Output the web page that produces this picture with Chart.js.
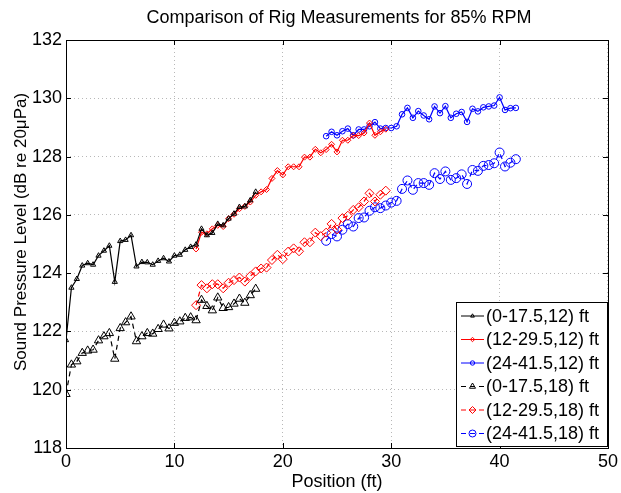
<!DOCTYPE html>
<html lang="en">
<head>
<meta charset="UTF-8">
<title>Comparison of Rig Measurements for 85% RPM</title>
<script src="https://cdn.jsdelivr.net/npm/chart.js@4.4.1/dist/chart.umd.min.js"></script>
<style>
  html, body { margin: 0; padding: 0; background: #fff; }
  #box { width: 621px; height: 493px; }
</style>
</head>
<body>
<div id="box"><canvas id="myChart" width="621" height="493"></canvas></div>
<script>
// microphone positions (ft) for each rig placement
var posA = [0,0.5,1,1.5,2,2.5,3,3.5,4,4.5,5,5.5,6,6.5,7,7.5,8,8.5,9,9.5,10,10.5,11,11.5,12,12.5,13,13.5,14,14.5,15,15.5,16,16.5,17,17.5];
var posB = [12,12.5,13,13.5,14,14.5,15,15.5,16,16.5,17,17.5,18,18.5,19,19.5,20,20.5,21,21.5,22,22.5,23,23.5,24,24.5,25,25.5,26,26.5,27,27.5,28,28.5,29,29.5];
var posC = [24,24.5,25,25.5,26,26.5,27,27.5,28,28.5,29,29.5,30,30.5,31,31.5,32,32.5,33,33.5,34,34.5,35,35.5,36,36.5,37,37.5,38,38.5,39,39.5,40,40.5,41,41.5];

// SPL (dB re 20uPa), height 12 ft
var splA12 = [121.7,123.5,123.8,124.26,124.34,124.29,124.6,124.77,124.94,123.7,125.1,125.14,125.3,124.23,124.38,124.37,124.29,124.42,124.51,124.4,124.6,124.63,124.8,124.9,124.98,125.52,125.3,125.38,125.69,125.64,125.87,126.04,126.27,126.29,126.5,126.79];
var splB12 = [124.83,125.4,125.35,125.52,125.64,125.6,125.87,126.02,126.21,126.29,126.44,126.67,126.79,126.87,127.25,127.52,127.37,127.65,127.65,127.65,127.98,127.98,128.25,128.13,128.24,128.42,128.16,128.56,128.56,128.72,128.72,128.81,129.15,128.73,128.85,128.94];
var splC12 = [128.7,128.85,128.73,128.87,128.96,128.73,128.93,128.93,129.04,129.18,128.96,128.98,128.98,129.04,129.45,129.67,129.33,129.56,129.41,129.28,129.72,129.49,129.73,129.33,129.47,129.53,129.19,129.64,129.55,129.69,129.72,129.75,130.03,129.6,129.66,129.67];

// height 18 ft
var splA18 = [119.85,120.86,120.97,121.26,121.34,121.37,121.69,121.83,121.94,121.06,122.11,122.31,122.51,121.66,121.83,121.94,121.92,122.08,122.23,122.1,122.29,122.34,122.46,122.48,122.38,123.08,122.87,122.72,123.16,122.8,122.83,122.95,123.12,122.98,123.24,123.46];
var splB18 = [122.9,123.59,123.48,123.62,123.62,123.48,123.67,123.76,123.85,123.71,123.9,124.06,124.16,124.19,124.45,124.63,124.48,124.74,124.85,124.75,125.06,125.06,125.39,125.27,125.39,125.69,125.5,125.89,125.97,126.17,126.26,126.46,126.74,126.46,126.69,126.83];
var splC18 = [125.11,125.34,125.26,125.49,125.68,125.6,125.89,125.91,126.14,126.26,126.23,126.32,126.42,126.48,126.89,127.18,126.86,127.09,127.09,127.03,127.43,127.23,127.49,127.2,127.26,127.39,127.06,127.54,127.51,127.68,127.71,127.77,128.14,127.66,127.79,127.91];

var xTicks = [0,10,20,30,40,50];
var yTicks = [118,120,122,124,126,128,130,132];

var FONT = "'Liberation Sans', Arial, sans-serif";
var TITLE = 'Comparison of Rig Measurements for 85% RPM';
var YTITLE = 'Sound Pressure Level (dB re 20\u03bcPa)';

var f_xy = function(p_x, p_y){
    var v_pts = [];
    for(var i=0; i<p_x.length; i++) v_pts.push({x: p_x[i], y: p_y[i]});
    return v_pts;
};

var f_set = function(p){
    return {
        label: p.label,
        data: f_xy(p.x, p.y),
        borderColor: p.color,
        borderWidth: 1.2,
        borderDash: p.dashed ? [5,4] : [],
        pointStyle: p.marker,
        pointRadius: p.size,
        pointBorderWidth: 1,
        pointBorderColor: p.color,
        pointBackgroundColor: 'rgba(0,0,0,0)',
        fill: false,
        tension: 0
    };
};

var datasets = [
    f_set({label:'(0-17.5,12) ft',  x:posA, y:splA12, color:'#000000', marker:'triangle', size:3,   dashed:false}),
    f_set({label:'(12-29.5,12) ft', x:posB, y:splB12, color:'#ff0000', marker:'rectRot',  size:3,   dashed:false}),
    f_set({label:'(24-41.5,12) ft', x:posC, y:splC12, color:'#0000ff', marker:'circle',   size:2.8, dashed:false}),
    f_set({label:'(0-17.5,18) ft',  x:posA, y:splA18, color:'#000000', marker:'triangle', size:4.8, dashed:true}),
    f_set({label:'(12-29.5,18) ft', x:posB, y:splB18, color:'#ff0000', marker:'rectRot',  size:4.5, dashed:true}),
    f_set({label:'(24-41.5,18) ft', x:posC, y:splC18, color:'#0000ff', marker:'circle',   size:4.5, dashed:true})
];

// box, inward ticks, titles and legend like the original figure
var boxPlugin = {
    id: 'boxPlugin',
    afterDraw: function(chart){
        var ctx = chart.ctx;
        var a = chart.chartArea;
        var xs = chart.scales.x, ys = chart.scales.y;
        ctx.save();
        ctx.strokeStyle = '#000';
        ctx.lineWidth = 1;
        ctx.setLineDash([]);
        ctx.beginPath();
        xTicks.forEach(function(v){
            var px = Math.round(xs.getPixelForValue(v)) + 0.5;
            ctx.moveTo(px, a.bottom); ctx.lineTo(px, a.bottom - 5);
            ctx.moveTo(px, a.top);    ctx.lineTo(px, a.top + 5);
        });
        yTicks.forEach(function(v){
            var py = Math.round(ys.getPixelForValue(v)) + 0.5;
            ctx.moveTo(a.left, py);  ctx.lineTo(a.left + 5, py);
            ctx.moveTo(a.right, py); ctx.lineTo(a.right - 5, py);
        });
        ctx.stroke();
        ctx.strokeRect(Math.round(a.left) + 0.5, Math.round(a.top) + 0.5,
                       Math.round(a.right - a.left), Math.round(a.bottom - a.top));

        // title centred over the axes
        ctx.fillStyle = '#000';
        ctx.font = '18px ' + FONT;
        ctx.textAlign = 'center';
        ctx.textBaseline = 'middle';
        ctx.fillText(TITLE, (a.left + a.right) / 2 + 2, 18);

        // y axis title
        ctx.save();
        ctx.translate(21, 232);
        ctx.rotate(-Math.PI / 2);
        ctx.font = '17px ' + FONT;
        ctx.fillText(YTITLE, 0, 0);
        ctx.restore();

        // legend
        var lx = 456.5, ly = 302.5, lw = 151, lh = 144;
        ctx.fillStyle = '#fff';
        ctx.fillRect(lx, ly, lw, lh);
        ctx.strokeRect(lx, ly, lw, lh);
        ctx.font = '18px ' + FONT;
        ctx.textBaseline = 'middle';
        ctx.textAlign = 'left';
        chart.data.datasets.forEach(function(ds, i){
            var cy = 316 + i * 23.5;
            ctx.strokeStyle = ds.borderColor;
            ctx.lineWidth = 1;
            ctx.setLineDash(ds.borderDash);
            ctx.beginPath();
            ctx.moveTo(461, cy); ctx.lineTo(484, cy);
            ctx.stroke();
            ctx.setLineDash([]);
            ctx.fillStyle = 'rgba(0,0,0,0)';
            Chart.helpers.drawPoint(ctx, {
                pointStyle: ds.pointStyle,
                radius: ds.pointRadius > 3 ? 3.5 : 2.2,
                rotation: 0,
                borderWidth: 1
            }, 472.5, cy);
            ctx.fillStyle = '#000';
            ctx.fillText(ds.label, 486, cy + 1);
        });
        ctx.restore();
    }
};

const ctx = document.getElementById('myChart').getContext('2d');
const myChart = new Chart(ctx, {
    type: 'line',
    data: { datasets: datasets },
    plugins: [boxPlugin],
    options: {
        responsive: false,
        animation: false,
        devicePixelRatio: 1,
        layout: { padding: { top: 40, right: 11, left: 0, bottom: 0 } },
        plugins: {
            legend: { display: false },
            tooltip: { enabled: false },
            title: { display: false }
        },
        scales: {
            x: {
                type: 'linear',
                min: 0, max: 50,
                afterFit: function(s){ s.height = 45; },
                afterBuildTicks: function(s){ s.ticks = xTicks.map(function(v){ return {value: v}; }); },
                grid: { color: '#b8b8b8', lineWidth: 1, drawTicks: false },
                border: { display: false, dash: [1,3] },
                ticks: { color: '#000', font: { family: FONT, size: 18 }, padding: 3, maxRotation: 0 },
                title: { display: true, text: 'Position (ft)', color: '#000',
                         font: { family: FONT, size: 18 }, padding: { top: 0, bottom: 0 } }
            },
            y: {
                type: 'linear',
                min: 118, max: 132,
                afterFit: function(s){ s.width = 66; },
                afterBuildTicks: function(s){ s.ticks = yTicks.map(function(v){ return {value: v}; }); },
                grid: { color: '#b8b8b8', lineWidth: 1, drawTicks: false },
                border: { display: false, dash: [1,3] },
                ticks: { color: '#000', font: { family: FONT, size: 18 }, padding: 4 },
                title: { display: false }
            }
        }
    }
});
</script>
</body>
</html>
